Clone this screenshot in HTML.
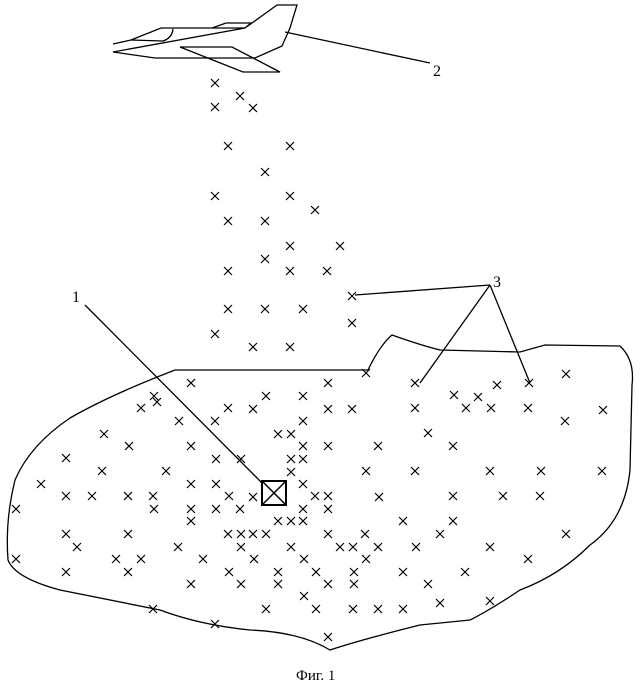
<!DOCTYPE html>
<html><head><meta charset="utf-8"><style>html,body{margin:0;padding:0;background:#fff}</style></head>
<body>
<svg width="642" height="684" viewBox="0 0 642 684" xmlns="http://www.w3.org/2000/svg">
<defs><g id="x"><path d="M-4,-4L4,4M-4,4L4,-4" stroke="#000" stroke-width="1.2"/></g></defs>
<g fill="none" stroke="#000" stroke-width="1.3">
<path d="M113,44 L131,40 L161,28 L212,28 L226,23 L251,23 L245,28 L212,28 M245,28 L277,5 L297,5 L290,28 L282,46 L255,58 L155,58 L113,52 Z"/>
<path d="M131,40 L163,41 Q172,38 173,29"/>
<path d="M180,47 L232,47 L280,72 L243,72 Z"/>
<path d="M285,32 L430,63"/>
<path d="M175,370 L368,370 Q380,345 392,335 Q420,345 440,350 L520,352 L545,345 L620,346 Q635,360 632,385 L630,470 Q625,520 590,545 Q560,575 520,590 Q490,610 470,620 L420,625 Q360,640 330,650 Q300,632 250,630 Q200,625 160,610 Q100,598 60,590 Q15,578 8,560 Q5,520 15,480 Q30,445 70,418 Q110,395 175,370 Z"/>
<path d="M85,305 L262,483"/>
<path d="M490,285 L355,295 M490,285 L420,383 M490,285 L530,383"/>
<rect x="262" y="481" width="24" height="24" stroke-width="2"/>
<path d="M262,481 L286,505 M286,481 L262,505" stroke-width="1.5"/>
</g>
<g>
<use href="#x" x="215" y="83"/><use href="#x" x="240" y="96"/><use href="#x" x="215" y="107"/><use href="#x" x="253" y="108"/><use href="#x" x="228" y="146"/><use href="#x" x="290" y="146"/><use href="#x" x="265" y="172"/><use href="#x" x="215" y="196"/><use href="#x" x="290" y="196"/><use href="#x" x="315" y="210"/><use href="#x" x="228" y="221"/><use href="#x" x="265" y="221"/><use href="#x" x="290" y="246"/><use href="#x" x="340" y="246"/><use href="#x" x="265" y="259"/><use href="#x" x="228" y="271"/><use href="#x" x="290" y="271"/><use href="#x" x="327" y="271"/><use href="#x" x="352" y="296"/><use href="#x" x="228" y="309"/><use href="#x" x="265" y="309"/><use href="#x" x="303" y="309"/><use href="#x" x="352" y="323"/><use href="#x" x="215" y="334"/><use href="#x" x="253" y="347"/><use href="#x" x="290" y="347"/>
<use href="#x" x="191" y="383"/><use href="#x" x="328" y="383"/><use href="#x" x="366" y="373"/><use href="#x" x="415" y="383"/><use href="#x" x="454" y="395"/><use href="#x" x="478" y="397"/><use href="#x" x="529" y="383"/><use href="#x" x="566" y="374"/><use href="#x" x="266" y="396"/><use href="#x" x="303" y="396"/><use href="#x" x="154" y="396"/><use href="#x" x="141" y="408"/><use href="#x" x="157" y="402"/><use href="#x" x="228" y="408"/><use href="#x" x="253" y="409"/><use href="#x" x="328" y="409"/><use href="#x" x="352" y="409"/><use href="#x" x="415" y="408"/><use href="#x" x="466" y="408"/><use href="#x" x="491" y="408"/><use href="#x" x="497" y="385"/><use href="#x" x="603" y="410"/><use href="#x" x="104" y="434"/><use href="#x" x="179" y="421"/><use href="#x" x="215" y="421"/><use href="#x" x="303" y="421"/><use href="#x" x="278" y="434"/><use href="#x" x="291" y="434"/><use href="#x" x="303" y="446"/><use href="#x" x="328" y="446"/><use href="#x" x="378" y="446"/><use href="#x" x="453" y="446"/><use href="#x" x="528" y="408"/><use href="#x" x="565" y="421"/><use href="#x" x="428" y="433"/><use href="#x" x="66" y="458"/><use href="#x" x="129" y="446"/><use href="#x" x="191" y="446"/><use href="#x" x="216" y="459"/><use href="#x" x="241" y="459"/><use href="#x" x="291" y="459"/><use href="#x" x="303" y="459"/><use href="#x" x="102" y="471"/><use href="#x" x="166" y="471"/><use href="#x" x="366" y="471"/><use href="#x" x="415" y="471"/><use href="#x" x="490" y="471"/><use href="#x" x="602" y="471"/><use href="#x" x="541" y="471"/><use href="#x" x="41" y="484"/><use href="#x" x="66" y="496"/><use href="#x" x="92" y="496"/><use href="#x" x="128" y="496"/><use href="#x" x="153" y="496"/><use href="#x" x="191" y="484"/><use href="#x" x="216" y="484"/><use href="#x" x="229" y="496"/><use href="#x" x="240" y="509"/><use href="#x" x="253" y="497"/><use href="#x" x="303" y="484"/><use href="#x" x="291" y="472"/><use href="#x" x="315" y="496"/><use href="#x" x="328" y="496"/><use href="#x" x="379" y="497"/><use href="#x" x="453" y="496"/><use href="#x" x="503" y="496"/><use href="#x" x="540" y="496"/><use href="#x" x="16" y="509"/><use href="#x" x="154" y="509"/><use href="#x" x="191" y="509"/><use href="#x" x="216" y="509"/><use href="#x" x="303" y="509"/><use href="#x" x="328" y="509"/><use href="#x" x="278" y="521"/><use href="#x" x="291" y="521"/><use href="#x" x="303" y="521"/><use href="#x" x="241" y="534"/><use href="#x" x="253" y="534"/><use href="#x" x="266" y="534"/><use href="#x" x="228" y="534"/><use href="#x" x="128" y="534"/><use href="#x" x="191" y="521"/><use href="#x" x="403" y="521"/><use href="#x" x="453" y="521"/><use href="#x" x="66" y="534"/><use href="#x" x="328" y="534"/><use href="#x" x="365" y="534"/><use href="#x" x="440" y="534"/><use href="#x" x="566" y="534"/><use href="#x" x="77" y="547"/><use href="#x" x="116" y="559"/><use href="#x" x="178" y="547"/><use href="#x" x="241" y="547"/><use href="#x" x="291" y="547"/><use href="#x" x="340" y="547"/><use href="#x" x="353" y="547"/><use href="#x" x="378" y="547"/><use href="#x" x="416" y="547"/><use href="#x" x="490" y="547"/><use href="#x" x="16" y="559"/><use href="#x" x="141" y="559"/><use href="#x" x="203" y="559"/><use href="#x" x="254" y="559"/><use href="#x" x="304" y="559"/><use href="#x" x="366" y="559"/><use href="#x" x="528" y="559"/><use href="#x" x="128" y="572"/><use href="#x" x="229" y="572"/><use href="#x" x="278" y="572"/><use href="#x" x="66" y="572"/><use href="#x" x="316" y="572"/><use href="#x" x="354" y="572"/><use href="#x" x="403" y="572"/><use href="#x" x="465" y="572"/><use href="#x" x="428" y="584"/><use href="#x" x="191" y="584"/><use href="#x" x="241" y="584"/><use href="#x" x="278" y="584"/><use href="#x" x="328" y="584"/><use href="#x" x="304" y="596"/><use href="#x" x="354" y="584"/><use href="#x" x="440" y="603"/><use href="#x" x="490" y="601"/><use href="#x" x="153" y="609"/><use href="#x" x="266" y="609"/><use href="#x" x="316" y="609"/><use href="#x" x="353" y="609"/><use href="#x" x="378" y="609"/><use href="#x" x="403" y="609"/><use href="#x" x="215" y="624"/><use href="#x" x="328" y="637"/>
</g>
<g font-family="Liberation Serif, serif" font-size="16" fill="#000">
<text x="433" y="76">2</text>
<text x="72" y="302">1</text>
<text x="493" y="287">3</text>
<text x="296" y="680" font-size="15">Фиг. 1</text>
</g>
</svg>
</body></html>
